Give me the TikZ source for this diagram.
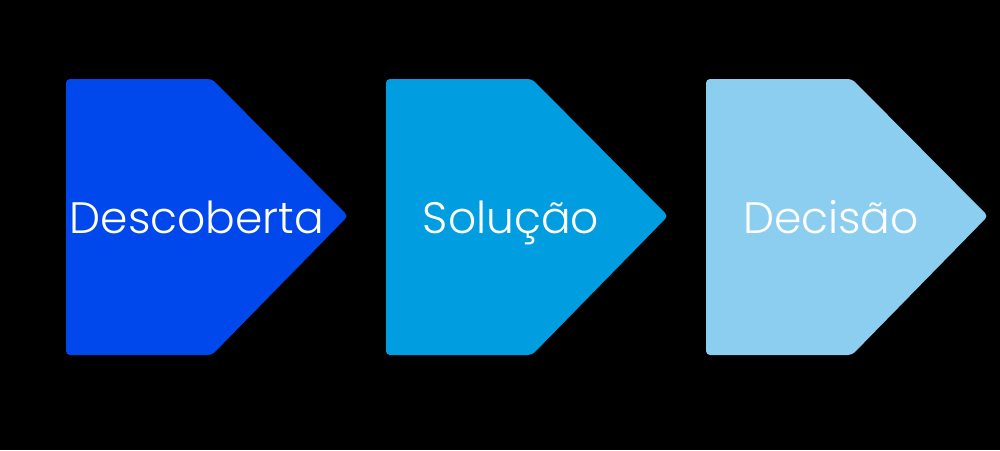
\documentclass[tikz,border=0pt]{standalone}
\usepackage{fontspec}
\setmainfont{Poppins}[UprightFont=* Light]
\definecolor{cA}{RGB}{0,72,235}
\definecolor{cB}{RGB}{0,158,224}
\definecolor{cC}{RGB}{140,206,240}
\begin{document}
\begin{tikzpicture}[x=1pt,y=-1pt,
  arrowshape/.style={rounded corners=4pt},
  lbl/.style={text=white,font=\fontsize{44}{50}\selectfont,anchor=base,inner sep=0pt}]
\fill[black] (0,0) rectangle (1000,450);
\useasboundingbox (0,0) rectangle (1000,450);
\foreach \x/\c/\t/\n/\tx in {66/cA/Descoberta/a/197, 386/cB/Solução/b/511, 706/cC/Decisão/c/831}{
  \fill[\c,arrowshape] (\x,79) -- (\x+146,79) -- (\x+282,216) -- (\x+146,355) -- (\x,355) -- cycle;
  \node[lbl] (\n) at (\tx,233) {\t};
}
\end{tikzpicture}
\end{document}
